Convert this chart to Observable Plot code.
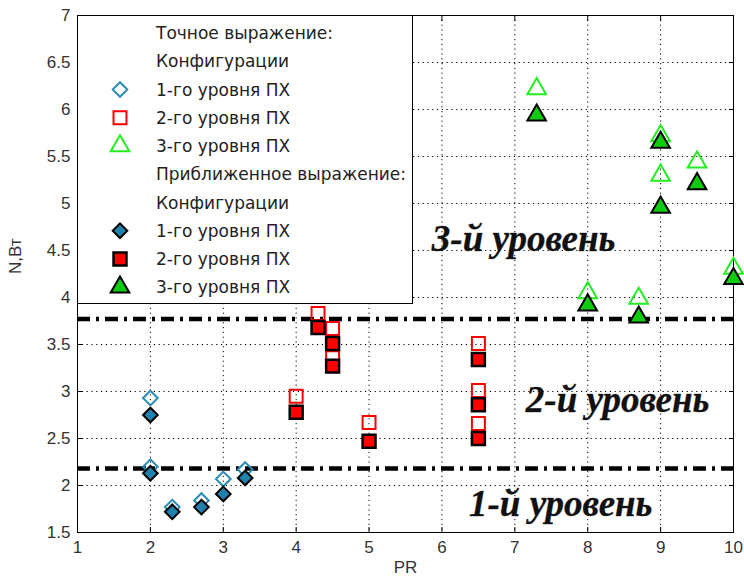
<!DOCTYPE html>
<html><head><meta charset="utf-8">
<script src="https://cdn.jsdelivr.net/npm/d3@7"></script>
<script src="https://cdn.jsdelivr.net/npm/@observablehq/plot@0.6"></script>
<style>
body{margin:0;background:#fff}
#wrap{position:relative;width:744px;height:584px;background:#fff}
#legend{position:absolute;left:77px;top:15px}
</style></head><body><div id="wrap"></div>
<script>
// ---- data ----
const xTicks = [1, 2, 3, 4, 5, 6, 7, 8, 9, 10];
const xTickLabels = ["1", "2", "3", "4", "5", "6", "7", "8", "9", "10"];
const yTicks = [1.5, 2, 2.5, 3, 3.5, 4, 4.5, 5, 5.5, 6, 6.5, 7];
const yTickLabels = ["1.5", "2", "2.5", "3", "3.5", "4", "4.5", "5", "5.5", "6", "6.5", "7"];

// level 1 configurations (diamonds)
const x1 = [2, 2, 2.3, 2.7, 3, 3.3];
const exactY1 = [2.93, 2.2, 1.77, 1.84, 2.07, 2.17];
const approxY1 = [2.75, 2.13, 1.72, 1.77, 1.91, 2.08];

// level 2 configurations (squares)
const x2 = [4, 4.3, 4.5, 4.5, 5, 6.5, 6.5, 6.5];
const exactY2 = [2.95, 3.83, 3.67, 3.36, 2.67, 3.51, 3.01, 2.66];
const approxY2 = [2.78, 3.68, 3.51, 3.27, 2.47, 3.34, 2.86, 2.5];

// level 3 configurations (triangles)
const x3 = [7.3, 8, 8.7, 9, 9, 9.5, 10];
const exactY3 = [6.22, 4.05, 3.99, 5.72, 5.3, 5.44, 4.31];
const approxY3 = [5.94, 3.92, 3.79, 5.65, 4.96, 5.21, 4.2];

// level boundaries
const levelLines = [2.18, 3.77];
const levelNames = ["3-й уровень", "2-й уровень", "1-й уровень"];
const levelNameX = [7.12, 8.41, 7.63];
const levelNameY = [4.5, 2.78, 1.68];

const legendLabels = ["Точное выражение:", "Конфигурации", "1-го уровня ПХ", "2-го уровня ПХ", "3-го уровня ПХ",
  "Приближенное выражение:", "Конфигурации", "1-го уровня ПХ", "2-го уровня ПХ", "3-го уровня ПХ"];
const legendSymbols = [null, null, "od", "os", "ot", null, null, "fd", "fs", "ft"];

// ---- styles ----
const C = {
  diamondOpen: "#2a8cb4", diamondFill: "#1f82ad",
  square: "#ff0000", triOpen: "#22ee22", triFill: "#10cc10"
};
const sans = "'Liberation Sans', Arial, sans-serif";
const legendFont = "'DejaVu Sans', Verdana, sans-serif";
const serif = "'Liberation Serif', 'Times New Roman', serif";
const lab = (arr, ticks) => d => arr[ticks.indexOf(d)];
const RD = 6.6, RS = 7.3, RT = 6.9;

const plot = Plot.plot({
  width: 744, height: 584,
  marginLeft: 77, marginRight: 11, marginTop: 15, marginBottom: 52,
  x: {domain: [1, 10]},
  y: {domain: [1.5, 7]},
  style: {fontFamily: sans, fontSize: "17px", color: "#333", background: "#fff"},
  marks: [
    Plot.gridX(xTicks.slice(1, -1), {stroke: "#000", strokeOpacity: 1, strokeDasharray: "1.2,3.6"}),
    Plot.gridY(yTicks.slice(1, -1), {stroke: "#000", strokeOpacity: 1, strokeDasharray: "1.2,3.6"}),
    Plot.ruleY(levelLines, {stroke: "#000", strokeWidth: 4.5, strokeDasharray: "13,6,3,6"}),
    Plot.frame({stroke: "#000"}),
    Plot.axisX(xTicks, {tickSize: -5, text: null, label: null, stroke: "#000"}),
    Plot.axisX(xTicks, {anchor: "top", tickSize: -5, text: null, label: null, stroke: "#000"}),
    Plot.axisY(yTicks, {tickSize: -5, text: null, label: null, stroke: "#000"}),
    Plot.axisY(yTicks, {anchor: "right", tickSize: -5, text: null, label: null, stroke: "#000"}),
    Plot.axisX(xTicks, {tickSize: 0, tickPadding: 8, label: null, tickFormat: lab(xTickLabels, xTicks), fill: "#333"}),
    Plot.axisY(yTicks, {tickSize: 0, tickPadding: 7, label: null, tickFormat: lab(yTickLabels, yTicks), fill: "#333"}),
    Plot.text(["PR"], {frameAnchor: "bottom", dy: 40, fontSize: 17, fill: "#333"}),
    Plot.text(["N,Вт"], {frameAnchor: "left", dx: -62, rotate: -90, fontSize: 17, fill: "#333"}),
    Plot.text(levelNames, {x: levelNameX, y: levelNameY, text: d => d, fontFamily: serif, fontWeight: "bold",
      fontStyle: "italic", fontSize: 37, textAnchor: "middle", lineAnchor: "bottom", fill: "#111",
      stroke: "#555", strokeWidth: 0.4}),
    // exact (open)
    Plot.dot(exactY1, {x: x1, y: exactY1, symbol: "diamond2", r: RD, stroke: C.diamondOpen, strokeWidth: 2, fill: "none"}),
    Plot.dot(exactY2, {x: x2, y: exactY2, symbol: "square", r: RS, stroke: C.square, strokeWidth: 2, fill: "none"}),
    Plot.dot(exactY3, {x: x3, y: exactY3, symbol: "triangle", r: RT, stroke: C.triOpen, strokeWidth: 2, fill: "none"}),
    // approx (filled)
    Plot.dot(approxY1, {x: x1, y: approxY1, symbol: "diamond2", r: RD, stroke: "#000", strokeWidth: 2, fill: C.diamondFill}),
    Plot.dot(approxY2, {x: x2, y: approxY2, symbol: "square", r: RS, stroke: "#000", strokeWidth: 2.5, fill: C.square}),
    Plot.dot(approxY3, {x: x3, y: approxY3, symbol: "triangle", r: RT, stroke: "#000", strokeWidth: 2, fill: C.triFill})
  ]
});
const wrap = document.getElementById("wrap");
wrap.appendChild(plot);

// ---- legend (inside the axes, top-left) ----
const LW = 335, LH = 288;
const lsvg = d3.select(wrap).append("svg").attr("id", "legend")
  .attr("width", LW + 1).attr("height", LH + 1);
lsvg.append("rect").attr("x", 0.5).attr("y", 0.5).attr("width", LW).attr("height", LH)
  .attr("fill", "#fff").attr("stroke", "#000");
const sym = {
  od: {t: d3.symbolDiamond2, r: RD, fill: "none", stroke: C.diamondOpen, sw: 2},
  os: {t: d3.symbolSquare, r: RS, fill: "none", stroke: C.square, sw: 2},
  ot: {t: d3.symbolTriangle, r: RT, fill: "none", stroke: C.triOpen, sw: 2},
  fd: {t: d3.symbolDiamond2, r: RD, fill: C.diamondFill, stroke: "#000", sw: 2},
  fs: {t: d3.symbolSquare, r: RS, fill: C.square, stroke: "#000", sw: 2.5},
  ft: {t: d3.symbolTriangle, r: RT, fill: C.triFill, stroke: "#000", sw: 2}
};
legendLabels.forEach((t, i) => {
  const cy = 18 + i * 28.25;
  const s = legendSymbols[i];
  if (s) {
    const m = sym[s];
    lsvg.append("path").attr("transform", `translate(43,${cy})`)
      .attr("d", d3.symbol(m.t, Math.PI * m.r * m.r)())
      .attr("fill", m.fill).attr("stroke", m.stroke).attr("stroke-width", m.sw);
  }
  lsvg.append("text").attr("x", 79).attr("y", cy).attr("dy", "0.36em")
    .attr("font-family", legendFont).attr("font-size", 17).attr("fill", "#222").text(t);
});
</script>
</body></html>
